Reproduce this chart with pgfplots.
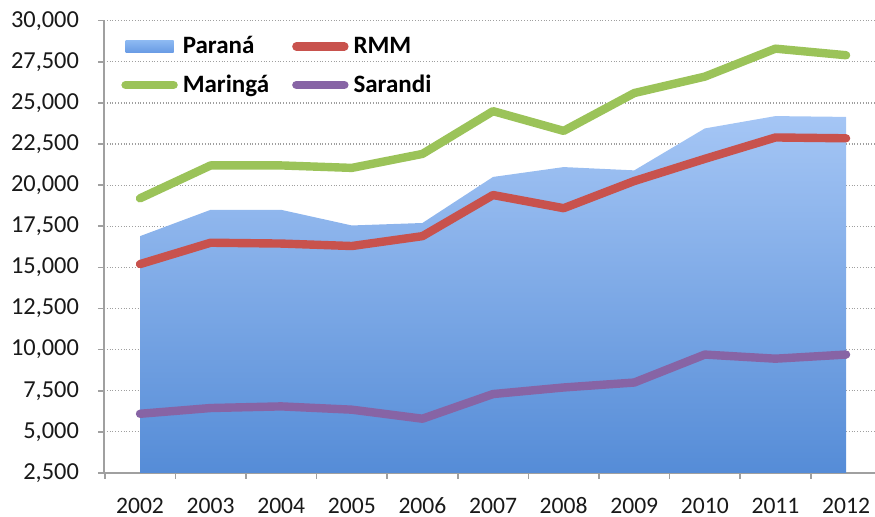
\documentclass[border=0pt]{standalone}
\usepackage{fontspec}
\setmainfont{Carlito}
\usepackage{pgfplots}
\pgfplotsset{compat=1.18}
\definecolor{cgreen}{RGB}{155,195,89}
\definecolor{cred}{RGB}{200,82,77}
\definecolor{cpurple}{RGB}{135,100,165}
\definecolor{atop}{RGB}{165,198,245}
\definecolor{abot}{RGB}{85,140,215}
\definecolor{ltop}{RGB}{140,185,242}
\definecolor{lbot}{RGB}{105,155,228}
\definecolor{axgray}{RGB}{160,160,160}
\begin{document}
\begin{tikzpicture}
\begin{axis}[
  name=ax,
  scale only axis,
  width=385.5pt, height=226.15pt,
  xmin=-0.51, xmax=10.41,
  ymin=2500, ymax=30000,
  axis x line*=bottom, axis y line*=left,
  axis line style={draw=axgray, line width=0.8pt, -},
  tick align=outside,
  major tick length=3pt,
  tick style={draw=axgray, line width=0.8pt},
  xtick={-0.5,0.5,...,9.5},
  xticklabels={},
  extra x ticks={0,1,...,10},
  extra x tick labels={2002,2003,2004,2005,2006,2007,2008,2009,2010,2011,2012},
  extra x tick style={major tick length=0pt, xticklabel style={anchor=base, inner ysep=0pt, yshift=-20pt}},
  ytick={2500,5000,...,30000},
  scaled y ticks=false,
  /pgf/number format/assume math mode=true,
  /pgf/number format/1000 sep={,},
  xticklabel style={font=\fontsize{11.8}{13}\selectfont, text=black!90},
  yticklabel style={xshift=-6pt, font=\fontsize{12.2}{13}\selectfont, text=black!90},
  ymajorgrids,
  grid style={densely dotted, draw=gray!75, line width=0.6pt},
  legend columns=2,
  legend cell align=left,
  legend style={at={(0.022,0.975)}, anchor=north west, draw=none, fill=none,
    inner sep=0pt, font=\bfseries\fontsize{12.5}{14}\selectfont,
    nodes={inner xsep=2.5pt},
    /tikz/every even column/.append style={column sep=9pt},
    row sep=5pt},
]
\addplot[draw=none, top color=atop, bottom color=abot,
  legend image code/.code={\path[draw=none, top color=ltop, bottom color=lbot] (2pt,-3pt) rectangle (26pt,3pt);}]
  coordinates {(0,16900) (1,18500) (2,18500) (3,17550) (4,17700) (5,20500) (6,21100) (7,20900) (8,23450) (9,24200) (10,24150) (10,2500) (0,2500)};
\addlegendentry{Paraná}
\addplot[cred, line width=4.2pt, line join=round, line cap=round,
  legend image code/.code={\draw[cred, line width=4.2pt, line cap=round] (2pt,0pt) -- (26pt,0pt);}]
  coordinates {(0,15200) (1,16500) (2,16450) (3,16300) (4,16900) (5,19400) (6,18600) (7,20250) (8,21600) (9,22900) (10,22850)};
\addlegendentry{RMM}
\addplot[cgreen, line width=4.2pt, line join=round, line cap=round,
  legend image code/.code={\draw[cgreen, line width=4.2pt, line cap=round] (2pt,0pt) -- (26pt,0pt);}]
  coordinates {(0,19200) (1,21200) (2,21200) (3,21050) (4,21900) (5,24500) (6,23300) (7,25600) (8,26600) (9,28300) (10,27900)};
\addlegendentry{Maringá}
\addplot[cpurple, line width=4.2pt, line join=round, line cap=round,
  legend image code/.code={\draw[cpurple, line width=4.2pt, line cap=round] (2pt,0pt) -- (26pt,0pt);}]
  coordinates {(0,6100) (1,6450) (2,6550) (3,6350) (4,5800) (5,7300) (6,7700) (7,8000) (8,9700) (9,9450) (10,9700)};
\addlegendentry{Sarandi}
\end{axis}
\pgfresetboundingbox
\path ([shift={(-52pt,-22pt)}]ax.south west) rectangle ([shift={(0pt,10.35pt)}]ax.north east);
\end{tikzpicture}
\end{document}
